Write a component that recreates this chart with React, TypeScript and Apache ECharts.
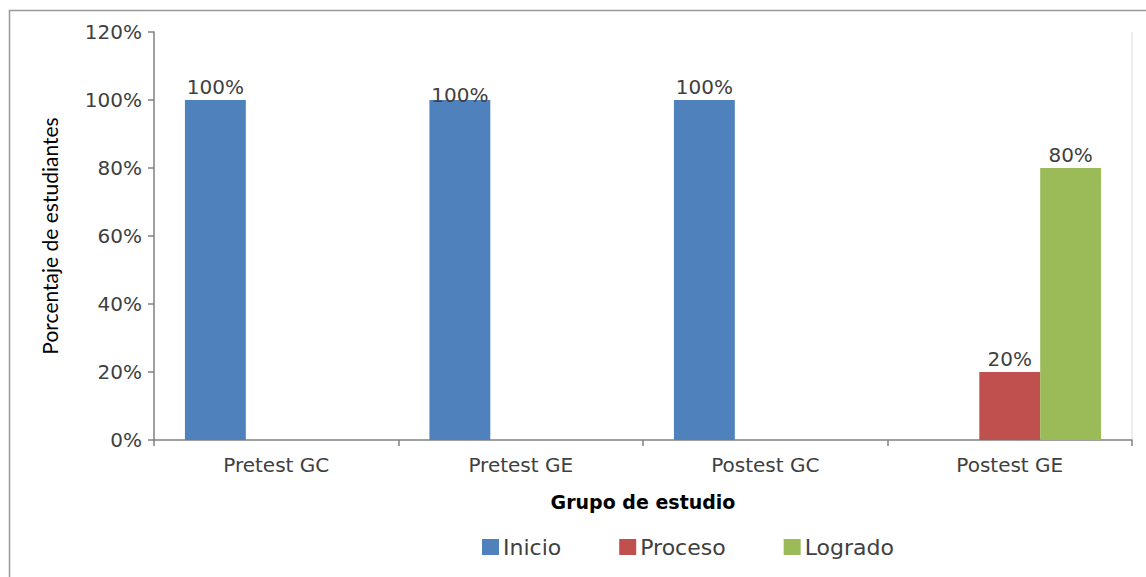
import React, { useEffect, useRef } from "react";
import * as echarts from "echarts";

const categories = ["Pretest GC", "Pretest GE", "Postest GC", "Postest GE"];
const seriesNames = ["Inicio", "Proceso", "Logrado"];
const inicio = [100, 100, 100, 0];
const proceso = [0, 0, 0, 20];
const logrado = [0, 0, 0, 80];
const yTicks = [0, 20, 40, 60, 80, 100, 120];
const colors = ["#4F81BD", "#C0504D", "#9BBB59"];

const FONT = "DejaVu Sans";
const TEXT = "#404040";

export default function App() {
  const ref = useRef<HTMLDivElement>(null);
  useEffect(() => {
    document.body.style.margin = "0";
    if (!ref.current) return;
    const chart = echarts.init(ref.current, null, { renderer: "svg" });
    const values = [inicio, proceso, logrado];
    const series = values.map((vals, si) => ({
      name: seriesNames[si],
      type: "bar",
      barGap: "0%",
      barCategoryGap: "25.3%",
      itemStyle: { color: colors[si] },
      data: vals.map((v, ci) =>
        si === 0 && ci === 1
          ? { value: v, label: { offset: [0, 8] } }
          : v
      ),
      label: {
        show: true,
        position: "top",
        distance: 3,
        color: TEXT,
        fontFamily: FONT,
        fontSize: 20,
        formatter: (p: any) => (p.value > 0 ? p.value + "%" : ""),
      },
    }));
    chart.setOption({
      animation: false,
      textStyle: { fontFamily: FONT },
      grid: { left: 154, top: 32, right: 14, bottom: 137 },
      legend: {
        data: seriesNames,
        left: 477,
        top: 531,
        itemWidth: 17,
        itemHeight: 16,
        itemGap: 58,
        icon: "rect",
        textStyle: { color: TEXT, fontFamily: FONT, fontSize: 22, padding: [0, 0, 0, -1] },
      },
      xAxis: {
        type: "category",
        data: categories,
        name: "Grupo de estudio",
        nameLocation: "middle",
        nameGap: 52,
        nameTextStyle: { color: "#000", fontFamily: FONT, fontSize: 19, fontWeight: "bold" },
        axisLine: { lineStyle: { color: "#808080", width: 1.5 } },
        axisTick: { show: true, length: 6, lineStyle: { color: "#808080", width: 1.5 } },
        axisLabel: { color: TEXT, fontFamily: FONT, fontSize: 20, margin: 15 },
      },
      yAxis: {
        type: "value",
        min: yTicks[0],
        max: yTicks[yTicks.length - 1],
        interval: 20,
        name: "Porcentaje de estudiantes",
        nameLocation: "middle",
        nameGap: 94,
        nameTextStyle: { color: "#000", fontFamily: "Lato", fontSize: 21 },
        axisLine: { show: true, lineStyle: { color: "#808080", width: 1.5 } },
        axisTick: { show: true, length: 6, lineStyle: { color: "#808080", width: 1.5 } },
        splitLine: { show: false },
        axisLabel: { color: TEXT, fontFamily: FONT, fontSize: 20, margin: 12, formatter: "{value}%" },
      },
      graphic: [
        {
          type: "rect",
          shape: { x: 9.5, y: 10.5, width: 1300, height: 700 },
          style: { fill: "none", stroke: "#999", lineWidth: 1.5 },
          silent: true,
        },
        {
          type: "line",
          shape: { x1: 1132, y1: 32, x2: 1132, y2: 440 },
          style: { stroke: "#e8e8e8", lineWidth: 1.5 },
          silent: true,
        },
      ],
      series,
    });
    return () => chart.dispose();
  }, []);
  return <div ref={ref} style={{ width: 1146, height: 577 }} />;
}
